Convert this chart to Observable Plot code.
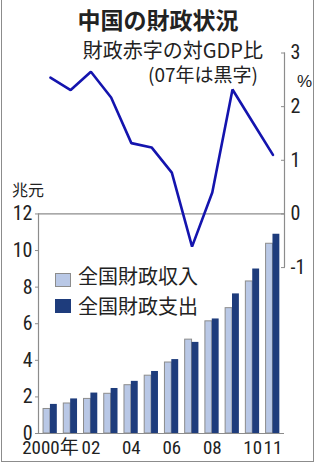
<!DOCTYPE html>
<html><head><meta charset="utf-8">
<script src="https://cdn.jsdelivr.net/npm/d3@7"></script>
<script src="https://cdn.jsdelivr.net/npm/@observablehq/plot@0.6"></script>
<style>
body{margin:0;background:#fff;}
#wrap{position:relative;width:318px;height:467px;overflow:hidden;font-family:"Noto Sans CJK JP",sans-serif;color:#222;}
#wrap svg{position:absolute;left:0;top:0;}
.t{position:absolute;white-space:nowrap;line-height:1;}
.border{position:absolute;left:1px;top:0;width:313px;height:462px;border:1px solid #8c8c8c;border-top:none;box-sizing:border-box;}
.sq{position:absolute;width:16px;height:14px;box-sizing:border-box;}
</style></head><body><div id="wrap"></div><script>
// ---- data ----
const years = [2000, 2001, 2002, 2003, 2004, 2005, 2006, 2007, 2008, 2009, 2010, 2011];
const revenue = [1.34, 1.64, 1.89, 2.17, 2.64, 3.16, 3.88, 5.13, 6.13, 6.85, 8.31, 10.37];      // 全国財政収入 (兆元)
const expenditure = [1.59, 1.89, 2.21, 2.46, 2.85, 3.39, 4.04, 4.98, 6.26, 7.63, 8.99, 10.89];  // 全国財政支出 (兆元)
const deficitRatio = [2.54, 2.31, 2.65, 2.17, 1.32, 1.24, 0.77, -0.61, 0.40, 2.32, 1.71, 1.10]; // 財政赤字の対GDP比 (%)
const leftTicks = [0, 2, 4, 6, 8, 10, 12];
const rightTicks = [-1, 0, 1, 2, 3];
const xTicks = [2000, 2002, 2004, 2006, 2008, 2010, 2011];
const xTickLabels = ["2000年", "02", "04", "06", "08", "10", "11"];
const seriesNames = ["全国財政収入", "全国財政支出"];
const titleText = "中国の財政状況";
const subtitle1 = "財政赤字の対GDP比";
const subtitle2 = "(07年は黒字)";
const leftUnit = "兆元";
const rightUnit = "%";

// ---- build ----
const rows = years.map((y, i) => ({year: y, rev: revenue[i], exp: expenditure[i], def: deficitRatio[i]}));
const leftMax = 12;          // left axis top, where right-axis 0 sits
const k = 2.932;             // bar units per percentage point
const toBar = v => leftMax + v * k;
const fromBar = v => Math.round((v - leftMax) / k);
const xDomain = [1999.41, 2011.57];
const half = 0.34;
const lightC = "#b9c8e6", darkC = "#1e3c7c", lineC = "#1414ae", grayC = "#8c8c8c";
const numFont = '"Roboto Condensed","DejaVu Sans Condensed","Noto Sans CJK JP",sans-serif';

const chart = Plot.plot({
  width: 318, height: 467,
  marginTop: 52.5, marginBottom: 34, marginLeft: 38, marginRight: 34,
  style: {background: "transparent", fontFamily: numFont, fontSize: "20px", color: "#222", overflow: "visible"},
  x: {type: "linear", domain: xDomain},
  y: {domain: [0, toBar(3)]},
  marks: [
    Plot.rectY(rows, {x1: d => d.year - half, x2: d => d.year, y: "rev", fill: lightC, stroke: grayC, strokeWidth: 1}),
    Plot.rectY(rows, {x1: d => d.year, x2: d => d.year + half, y: "exp", fill: darkC}),
    Plot.ruleY([0], {stroke: grayC, strokeWidth: 1.2}),
    Plot.ruleY([toBar(0)], {stroke: grayC, strokeWidth: 1.2}),
    Plot.ruleX([xDomain[0]], {y1: 0, y2: leftMax, stroke: grayC, strokeWidth: 1.2}),
    Plot.ruleX([xDomain[1]], {y1: toBar(-1), y2: toBar(3), stroke: grayC, strokeWidth: 1.2}),
    Plot.line(rows, {x: "year", y: d => toBar(d.def), stroke: lineC, strokeWidth: 2.6, strokeLinejoin: "miter"}),
    Plot.axisY({anchor: "left", ticks: leftTicks, tickSize: 3, tickPadding: 3, label: null, stroke: grayC, fontSize: 20}),
    Plot.axisY({anchor: "right", ticks: rightTicks.map(toBar), tickFormat: fromBar, tickSize: -4, tickPadding: 10, label: null, stroke: grayC, fontSize: 20}),
    Plot.axisX({ticks: xTicks, tickFormat: d => xTickLabels[xTicks.indexOf(d)], tickSize: 0, tickPadding: 7, label: null, fontSize: 19})
  ]
});

const wrap = document.getElementById("wrap");
wrap.appendChild(chart);
const add = (html, css, cls = "t") => { const d = document.createElement("div"); d.className = cls; d.style.cssText = css; d.textContent = html; wrap.appendChild(d); return d; };
add("", "", "border");
add(titleText, "left:0;width:316px;text-align:center;top:8px;font-size:23px;font-weight:bold;");
add(subtitle1, "right:55px;top:40px;font-size:20px;");
add(subtitle2, "right:60px;top:64px;font-size:19px;");
add(leftUnit, "left:12px;top:181px;font-size:16px;");
add(rightUnit, `left:297px;top:73px;font-size:17px;font-family:"Liberation Sans",sans-serif;`);
add("", `left:55px;top:273px;background:${lightC};border:1px solid ${grayC};`, "sq");
add("", `left:55px;top:299px;background:${darkC};`, "sq");
add(seriesNames[0], "left:78px;top:266px;font-size:20px;");
add(seriesNames[1], "left:78px;top:296px;font-size:20px;");
</script></body></html>
